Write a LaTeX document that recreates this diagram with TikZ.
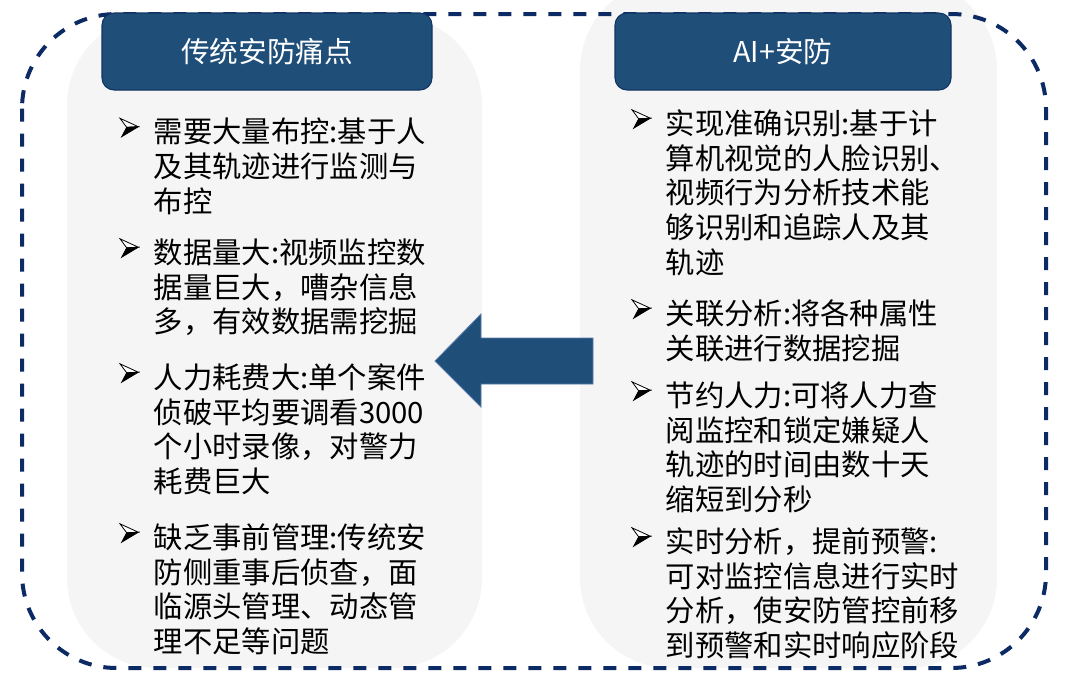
\documentclass[tikz,border=0pt]{standalone}
\usepackage{fontspec}
\setmainfont{Noto Sans CJK SC}
\definecolor{navy}{RGB}{12,42,100}
\definecolor{hdr}{RGB}{31,78,121}
\definecolor{hdrborder}{RGB}{18,52,98}
\definecolor{panelgray}{RGB}{245,245,245}
\definecolor{arrowedge}{RGB}{90,125,175}
\begin{document}
\begin{tikzpicture}[x=0.75pt,y=-0.75pt,
  panel/.style={fill=panelgray,draw=none,rounded corners=67.5pt},
  outline/.style={draw=navy,line width=3pt,dash pattern=on 9.75pt off 9pt,rounded corners=71pt},
  header/.style={fill=hdr,draw=hdrborder,line width=0.8pt,rounded corners=9pt,
    minimum height=57.75pt,inner sep=0pt,text=white,font=\fontsize{21.5}{26}\selectfont},
  body/.style={anchor=north west,inner sep=0pt,align=left,text=black,
    font=\fontsize{22}{26.1}\selectfont},
  bigarrow/.style={fill=hdr,draw=arrowedge,line width=0.6pt},
  bulletpic/.pic={
    \filldraw[fill=white,draw=black,line width=0.6pt,line join=miter]
      (-35,-13.2) -- (-16.7,-4.8) -- (-28.3,-4.2) -- cycle;
    \filldraw[fill=black,draw=black,line width=0.6pt,line join=miter]
      (-28.3,-4.2) -- (-16.7,-4.8) -- (-33.3,5.2) -- cycle;
  }]
\useasboundingbox (0,0) rectangle (1071,682);
\begin{scope}
\clip (0,0) rectangle (1071,682);
% panels
\fill[panel] (67,15) rectangle (482,668);
\fill[panel] (580,-20) rectangle (997,668);
% dashed outline
\draw[outline] (22,14) rectangle (1046,668);
\end{scope}
% headers
\node[header,minimum width=247.5pt] (hL) at (267,51.5) {传统安防痛点};
\node[header,minimum width=252pt] (hR) at (783,51.5) {AI+安防};
% arrow
\draw[bigarrow] (435,361) -- (481,314) -- (481,338) -- (593,338) -- (593,384) -- (481,384) -- (481,407) -- cycle;
% left items
\node[body] (L1) at (153.5,115.8) {\rule{0pt}{20pt}需要大量布控:基于人\\及其轨迹进行监测与\\布控};
\node[body] (L2) at (153.5,236.3) {\rule{0pt}{20pt}数据量大:视频监控数\\据量巨大，嘈杂信息\\多，有效数据需挖掘};
\node[body] (L3) at (153.5,361.3) {\rule{0pt}{20pt}人力耗费大:单个案件\\侦破平均要调看3000\\个小时录像，对警力\\耗费巨大};
\node[body] (L4) at (153.5,521.3) {\rule{0pt}{20pt}缺乏事前管理:传统安\\防侧重事后侦查，面\\临源头管理、动态管\\理不足等问题};
% right items
\node[body] (R1) at (665.5,107.3) {\rule{0pt}{20pt}实现准确识别:基于计\\算机视觉的人脸识别、\\视频行为分析技术能\\够识别和追踪人及其\\轨迹};
\node[body] (R2) at (665.5,297.3) {\rule{0pt}{20pt}关联分析:将各种属性\\关联进行数据挖掘};
\node[body] (R3) at (665.5,379.3) {\rule{0pt}{20pt}节约人力:可将人力查\\阅监控和锁定嫌疑人\\轨迹的时间由数十天\\缩短到分秒};
\node[body] (R4) at (665.5,525.3) {\rule{0pt}{20pt}实时分析，提前预警:\\可对监控信息进行实时\\分析，使安防管控前移\\到预警和实时响应阶段};
% bullets
\foreach \n in {L1,L2,L3,L4,R1,R2,R3,R4}
  \pic at ([shift={(1.5,15.7)}]\n.north west) {bulletpic};
\end{tikzpicture}
\end{document}
